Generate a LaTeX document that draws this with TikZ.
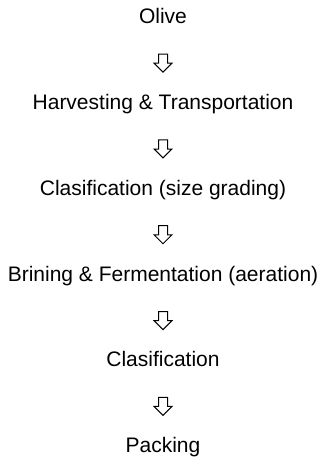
\documentclass[tikz,border=0pt]{standalone}
\usepackage{fontspec}
\setmainfont{Liberation Sans}
\usetikzlibrary{positioning,shapes.arrows}

\begin{document}
\begin{tikzpicture}[
  node distance=42.9pt, on grid,
  stage/.style={font=\fontsize{10.5pt}{12pt}\selectfont, inner sep=0pt,
                text height=7.6pt, text depth=2pt},
  downarrow/.style={draw, line width=0.5pt, single arrow, rotate=-90,
                    inner sep=2pt, minimum height=9pt, minimum width=8.4pt,
                    single arrow head extend=2.2pt}
]
\useasboundingbox (0,0) rectangle (162.5pt,-229.5pt);
\node[stage] (olive) at (81.5pt,-9pt) {Olive};
\node[stage, below=of olive] (harvest) {Harvesting \& Transportation};
\node[stage, below=of harvest] (sizing) {Clasification (size grading)};
\node[stage, below=of sizing] (brining) {Brining \& Fermentation (aeration)};
\node[stage, below=of brining] (sorting) {Clasification};
\node[stage, below=of sorting] (packing) {Packing};
\foreach \a/\b in {olive/harvest, harvest/sizing, sizing/brining,
                   brining/sorting, sorting/packing}
  \path (\a) -- node[downarrow] {} (\b);
\end{tikzpicture}
\end{document}
